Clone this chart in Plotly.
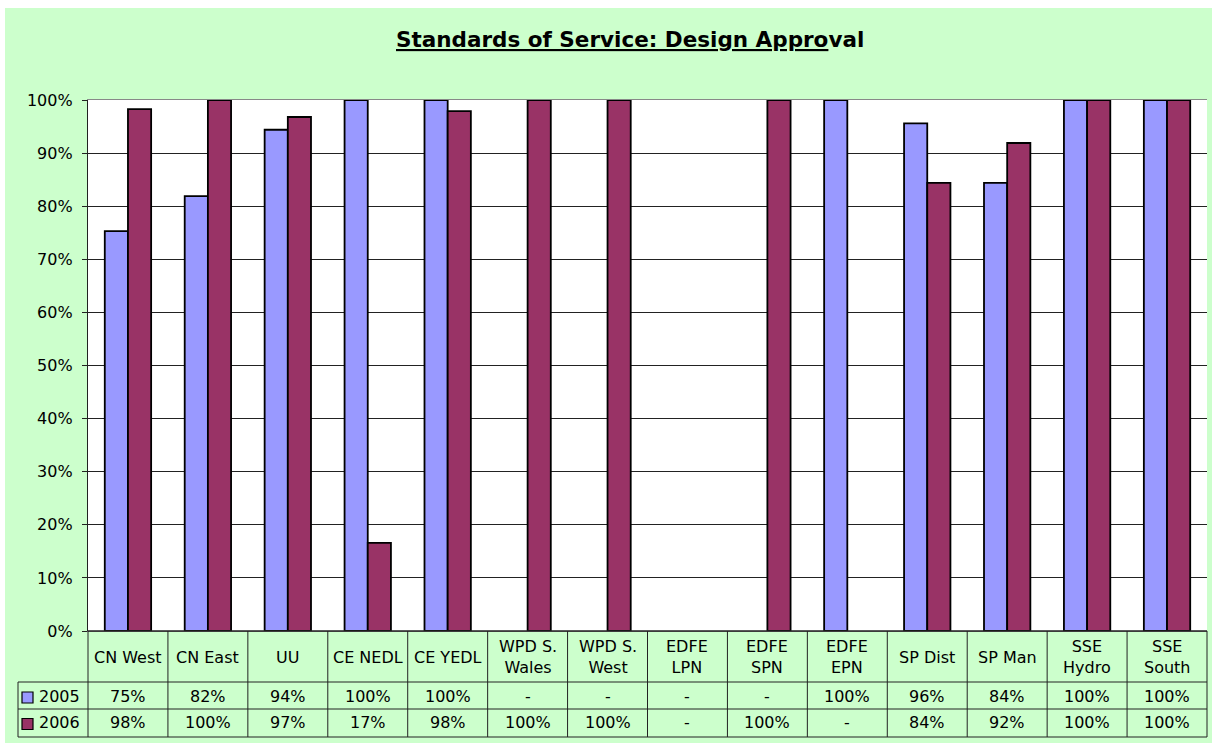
import plotly.graph_objects as go

# ---------------- data ----------------
categories = ["CN West", "CN East", "UU", "CE NEDL", "CE YEDL", "WPD S. Wales",
              "WPD S. West", "EDFE LPN", "EDFE SPN", "EDFE EPN", "SP Dist",
              "SP Man", "SSE Hydro", "SSE South"]
category_labels = ["CN West", "CN East", "UU", "CE NEDL", "CE YEDL", "WPD S.<br>Wales",
                   "WPD S.<br>West", "EDFE<br>LPN", "EDFE<br>SPN", "EDFE<br>EPN", "SP Dist",
                   "SP Man", "SSE<br>Hydro", "SSE<br>South"]
series_names = ["2005", "2006"]
values_2005 = [75.3, 81.9, 94.4, 100, 100, None, None, None, None, 100, 95.6, 84.4, 100, 100]
values_2006 = [98.3, 100, 96.8, 16.6, 97.9, 100, 100, None, 100, None, 84.4, 91.9, 100, 100]
series_values = [values_2005, values_2006]
colors = ["#9999FF", "#993366"]
y_ticks = list(range(0, 101, 10))
y_tick_labels = [f"{v}%" for v in y_ticks]
title_text = "<b><u>Standards of Service: Design Appro</u>val</b>"

# ---------------- geometry (pixels) ----------------
W, H = 1212, 745
L, R, T, B = 88, 1207, 100, 631
FONT = "DejaVu Sans, Verdana, sans-serif"
GREEN = "#CCFFCC"
LINE = "#222222"


def px(x):
    return (x - L) / (R - L)


def py(y):
    return (B - y) / (B - T)


fig = go.Figure()
for name, vals, col in zip(series_names, series_values, colors):
    fig.add_trace(go.Bar(
        x=categories, y=vals, name=name,
        marker=dict(color=col, line=dict(color="#000000", width=1.8)),
        hoverinfo="x+y",
    ))

shapes = []
# white outer edges around the green chart area
shapes.append(dict(type="rect", xref="paper", yref="paper", x0=px(0), x1=px(5), y0=py(H), y1=py(0),
                   fillcolor="white", line=dict(width=0)))
shapes.append(dict(type="rect", xref="paper", yref="paper", x0=px(0), x1=px(W), y0=py(8), y1=py(0),
                   fillcolor="white", line=dict(width=0)))
shapes.append(dict(type="rect", xref="paper", yref="paper", x0=px(0), x1=px(W), y0=py(H), y1=py(743),
                   fillcolor="white", line=dict(width=0)))

n = len(categories)
# table horizontal lines
for yy in (682, 709, 737):
    shapes.append(dict(type="line", xref="paper", yref="paper", x0=px(18), x1=1, y0=py(yy), y1=py(yy),
                       line=dict(color=LINE, width=1)))
# left legend column line
shapes.append(dict(type="line", xref="paper", yref="paper", x0=px(18), x1=px(18), y0=py(682), y1=py(737),
                   line=dict(color=LINE, width=1)))
# category boundaries
for i in range(n + 1):
    xx = i / n
    shapes.append(dict(type="line", xref="paper", yref="paper", x0=xx, x1=xx, y0=0, y1=py(737),
                       line=dict(color=LINE, width=1)))
# bottom axis line
shapes.append(dict(type="line", xref="paper", yref="paper", x0=0, x1=1, y0=0, y1=0,
                   line=dict(color=LINE, width=1.3)))
# legend key squares
for yc, col in zip((697.5, 724), colors):
    shapes.append(dict(type="rect", xref="paper", yref="paper", x0=px(22), x1=px(33),
                       y0=py(yc + 5.5), y1=py(yc - 5.5), fillcolor=col,
                       line=dict(color="#000000", width=1.2)))

annotations = []
annotations.append(dict(xref="paper", yref="paper", x=px(630), y=py(40), text=title_text,
                        showarrow=False, xanchor="center", yanchor="middle",
                        font=dict(family=FONT, size=21.5, color="#000000")))
for i, lab in enumerate(category_labels):
    xc = (i + 0.5) / n
    annotations.append(dict(xref="paper", yref="paper", x=xc, y=py(657), text=lab, showarrow=False,
                            xanchor="center", yanchor="middle",
                            font=dict(family=FONT, size=16, color="#000000")))


def fmt(v):
    return "-" if v is None else f"{round(v)}%"


for yc, name, vals in zip((696, 722), series_names, series_values):
    annotations.append(dict(xref="paper", yref="paper", x=px(37), y=py(yc), text=name, showarrow=False,
                            xanchor="left", yanchor="middle",
                            font=dict(family=FONT, size=16, color="#000000")))
    for i, v in enumerate(vals):
        xc = (i + 0.5) / n
        annotations.append(dict(xref="paper", yref="paper", x=xc, y=py(yc), text=fmt(v), showarrow=False,
                                xanchor="center", yanchor="middle",
                                font=dict(family=FONT, size=16, color="#000000")))

fig.update_layout(
    width=W, height=H,
    margin=dict(l=L, r=W - R, t=T, b=H - B, pad=0),
    paper_bgcolor=GREEN, plot_bgcolor="white",
    barmode="group", bargap=0.42, bargroupgap=0,
    showlegend=False,
    font=dict(family=FONT, size=16, color="#000000"),
    shapes=shapes, annotations=annotations,
)
fig.update_xaxes(showticklabels=False, showgrid=False, zeroline=False,
                 showline=True, linecolor="#888888", linewidth=1, mirror=True, ticks="")
fig.update_yaxes(range=[0, 100], tickmode="array", tickvals=y_ticks, ticktext=y_tick_labels,
                 showgrid=True, gridcolor=LINE, gridwidth=1, zeroline=False,
                 showline=True, linecolor=LINE, linewidth=1.3,
                 ticks="outside", ticklen=5, tickcolor=LINE, ticklabelstandoff=6,
                 tickfont=dict(family=FONT, size=16, color="#000000"))

fig.write_html("out.html", config={"displayModeBar": False},
               post_script="document.body.style.margin='0';document.body.style.overflow='hidden';")
